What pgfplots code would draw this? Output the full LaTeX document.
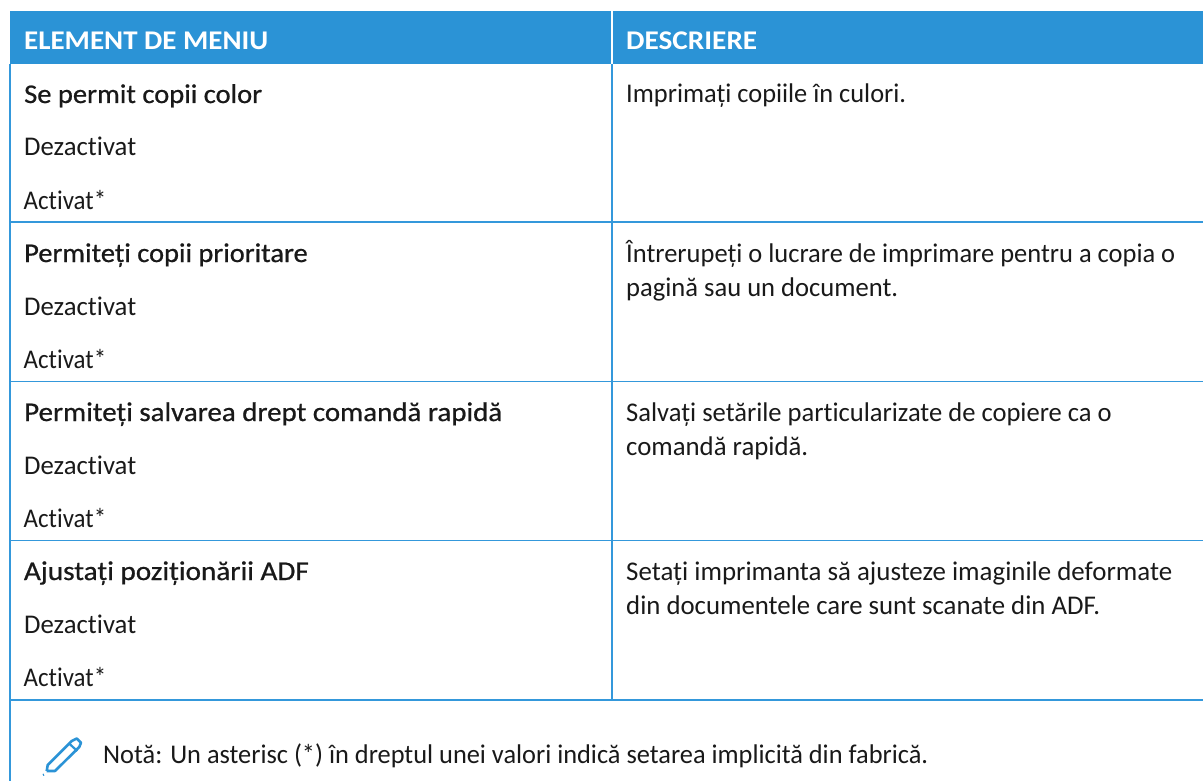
\documentclass[border=0pt]{standalone}
\usepackage{graphicx}
\usepackage{pgfplots}
\pgfplotsset{compat=1.18}
\usepackage{fontspec}
\setmainfont[Ligatures=NoCommon]{Carlito}
\newfontface\med[Ligatures=NoCommon,FakeBold=0.7]{Carlito}
\definecolor{hdr}{RGB}{43,147,214}
\definecolor{rule}{RGB}{52,152,219}
\definecolor{txt}{RGB}{25,25,25}
% #1 position, #2 target width in px, #3 text
\newcommand{\T}[3]{\node[anchor=base west,inner sep=0pt,text=txt,font=\fontsize{27}{27}\selectfont] at (axis cs:#1) {\resizebox{#2pt}{\height}{#3}};}
\begin{document}
\begin{tikzpicture}
\begin{axis}[
  scale only axis,width=1203pt,height=781pt,
  xmin=0,xmax=1203,ymin=0,ymax=781,y dir=reverse,
  axis lines=none,clip=true,ticks=none]
\path (axis cs:0,0) rectangle (axis cs:1203,781);
% header bands
\addplot[draw=none,fill=hdr] coordinates {(10,11)(611,11)(611,64)(10,64)} --cycle;
\addplot[draw=none,fill=hdr] coordinates {(613,11)(1203,11)(1203,64)(613,64)} --cycle;
% rules
\addplot[rule,line width=1.3pt] coordinates {(10,64)(10,781)};
\addplot[rule,line width=1.3pt] coordinates {(612,64)(612,700)};
\addplot[rule,line width=1.3pt] coordinates {(10,222)(1203,222)};
\addplot[rule,line width=1.3pt] coordinates {(10,381.7)(1203,381.7)};
\addplot[rule,line width=1.3pt] coordinates {(10,540.8)(1203,540.8)};
\addplot[rule,line width=1.3pt] coordinates {(10,700)(1203,700)};
% pencil
\addplot[hdr,line width=2.6pt,line join=round] coordinates {(46.7,771)(47.7,765)(71.7,741)(76.7,738.5)(81,742.7)(79.3,747)(55,771)(46.7,771)};
\addplot[hdr,line width=2.2pt] coordinates {(69.3,743.7)(77.3,751)};
\addplot[hdr,line width=2.2pt] coordinates {(43,775)(44,774.5)};
% text
\T{24,50}{244}{\color{white}\bfseries ELEMENT DE MENIU}
\T{626,50}{131}{\color{white}\bfseries DESCRIERE}
\T{24,103}{238}{\med Se permit copii color}
\T{24,156}{112}{Dezactivat}
\T{23.5,209}{82.5}{Activat*}
\T{24,262}{283.5}{\med Permiteți copii prioritare}
\T{24,315}{112}{Dezactivat}
\T{23.5,368}{82.5}{Activat*}
\T{24,421}{478}{\med Permiteți salvarea drept comandă rapidă}
\T{24,474}{112}{Dezactivat}
\T{23.5,527}{82.5}{Activat*}
\T{23.7,580}{285}{\med Ajustați poziționării ADF}
\T{24,633}{112}{Dezactivat}
\T{23.5,686}{82.5}{Activat*}
\T{626,103}{280}{Imprimați copiile în culori.}
\T{626,262}{549}{Întrerupeți o lucrare de imprimare pentru a copia o}
\T{626,296}{272}{pagină sau un document.}
\T{626,421}{485.5}{Salvați setările particularizate de copiere ca o}
\T{626,455}{182}{comandă rapidă.}
\T{626,580}{546}{Setați imprimanta să ajusteze imaginile deformate}
\T{626,614}{474}{din documentele care sunt scanate din ADF.}
\T{103,763}{825}{Notă: Un asterisc (*) în dreptul unei valori indică setarea implicită din fabrică.}
\end{axis}
\end{tikzpicture}
\end{document}
